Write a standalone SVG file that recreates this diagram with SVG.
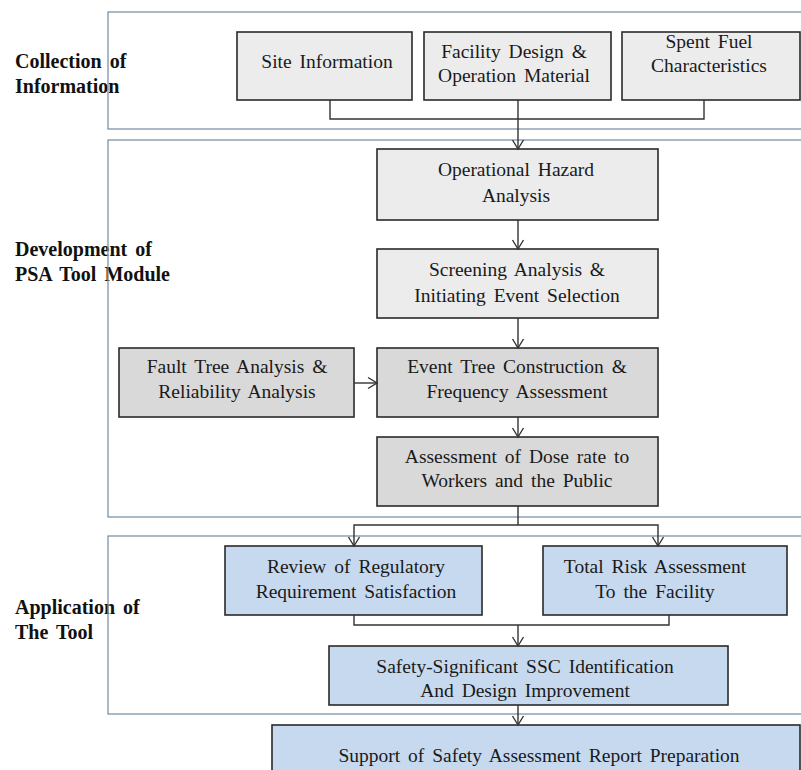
<svg xmlns="http://www.w3.org/2000/svg" width="801" height="770" viewBox="0 0 801 770">
<style>
  .frame { fill: none; stroke: #7f93a6; stroke-width: 1.3; }
  .lab { font-family: "Liberation Serif", "Times New Roman", serif; font-weight: bold; font-size: 20px; fill: #111; word-spacing: 3px; }
  .box rect { stroke: #2a2a2a; stroke-width: 1.6; }
  .g1 rect { fill: #ececec; }
  .g2 rect { fill: #d9d9d9; }
  .b rect { fill: #c6d9ef; }
  .box text { font-family: "Liberation Serif", "Times New Roman", serif; font-size: 19.5px; fill: #1a1a1a; text-anchor: middle; word-spacing: 3px; }
  .conn path { fill: none; stroke: #333; stroke-width: 1.4; }
</style>
<defs>
  <marker id="arr" viewBox="-11 -7 13 14" refX="0" refY="0" markerWidth="13" markerHeight="14" orient="auto" markerUnits="userSpaceOnUse">
    <path d="M-9,-5.5 L0,0 L-9,5.5" fill="none" stroke="#333" stroke-width="1.4"/>
  </marker>
</defs>
<rect width="801" height="770" fill="#ffffff"/>

<g id="labels">
  <text class="lab" x="15" y="68">Collection of</text>
  <text class="lab" x="15" y="93">Information</text>
  <text class="lab" x="15" y="256">Development of</text>
  <text class="lab" x="15" y="281">PSA Tool Module</text>
  <text class="lab" x="15" y="614">Application  of</text>
  <text class="lab" x="15" y="639">The Tool</text>
</g>

<g id="sections">
  <rect class="frame" x="108" y="12" width="720" height="117"/>
  <rect class="frame" x="108" y="140" width="720" height="377"/>
  <rect class="frame" x="108" y="536" width="720" height="178"/>
</g>

<g id="site" class="box g1">
  <rect x="237" y="32" width="175" height="68"/>
  <text x="327" y="68">Site Information</text>
</g>
<g id="facility" class="box g1">
  <rect x="424" y="32" width="187" height="68"/>
  <text x="514" y="58">Facility Design &amp;</text>
  <text x="514" y="82">Operation Material</text>
</g>
<g id="spentfuel" class="box g1">
  <rect x="622" y="32" width="178" height="68"/>
  <text x="709" y="48">Spent Fuel</text>
  <text x="709" y="72">Characteristics</text>
</g>
<g id="hazard" class="box g1">
  <rect x="377" y="149" width="281" height="71"/>
  <text x="516" y="176">Operational Hazard</text>
  <text x="516" y="202">Analysis</text>
</g>
<g id="screening" class="box g1">
  <rect x="377" y="249" width="281" height="69"/>
  <text x="517" y="276">Screening Analysis &amp;</text>
  <text x="517" y="302">Initiating Event Selection</text>
</g>
<g id="faulttree" class="box g2">
  <rect x="119" y="348" width="235" height="69"/>
  <text x="237" y="373">Fault Tree Analysis &amp;</text>
  <text x="237" y="398">Reliability Analysis</text>
</g>
<g id="eventtree" class="box g2">
  <rect x="377" y="348" width="281" height="69"/>
  <text x="517" y="373">Event Tree Construction &amp;</text>
  <text x="517" y="398">Frequency Assessment</text>
</g>
<g id="dose" class="box g2">
  <rect x="377" y="437" width="281" height="69"/>
  <text x="517" y="463">Assessment of Dose rate to</text>
  <text x="517" y="487">Workers and the Public</text>
</g>
<g id="review" class="box b">
  <rect x="225" y="546" width="257" height="69"/>
  <text x="356" y="573">Review of Regulatory</text>
  <text x="356" y="598">Requirement Satisfaction</text>
</g>
<g id="totalrisk" class="box b">
  <rect x="543" y="546" width="244" height="69"/>
  <text x="655" y="573">Total Risk Assessment</text>
  <text x="655" y="598">To the Facility</text>
</g>
<g id="ssc" class="box b">
  <rect x="329" y="646" width="399" height="59"/>
  <text x="525" y="673">Safety-Significant SSC Identification</text>
  <text x="525" y="697">And Design Improvement</text>
</g>
<g id="support" class="box b">
  <rect x="272" y="725" width="528" height="60"/>
  <text x="539" y="762">Support of Safety Assessment Report Preparation</text>
</g>

<g id="connectors" class="conn">
  <path d="M330,100 V119 H704 V100"/>
  <path d="M518,100 V149" marker-end="url(#arr)"/>
  <path d="M518,220 V249" marker-end="url(#arr)"/>
  <path d="M518,318 V348" marker-end="url(#arr)"/>
  <path d="M354,383 H377" marker-end="url(#arr)"/>
  <path d="M518,417 V437" marker-end="url(#arr)"/>
  <path d="M518,506 V525"/>
  <path d="M518,525 H354 V546" marker-end="url(#arr)"/>
  <path d="M518,525 H658 V546" marker-end="url(#arr)"/>
  <path d="M354,615 V625 H669 V615"/>
  <path d="M518,625 V646" marker-end="url(#arr)"/>
  <path d="M518,705 V725" marker-end="url(#arr)"/>
</g>
</svg>
